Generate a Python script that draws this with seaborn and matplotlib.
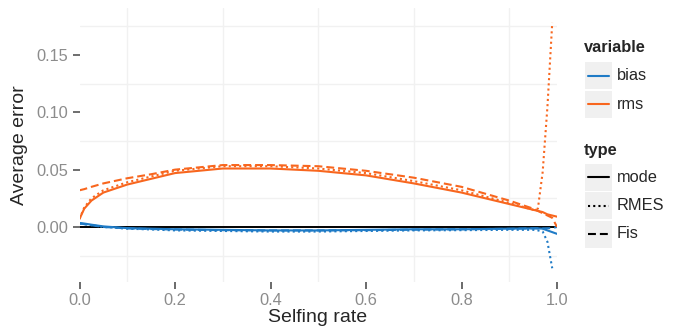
import pandas as pd
import matplotlib
matplotlib.use('Agg')
import matplotlib.pyplot as plt
from matplotlib.patches import Rectangle
from matplotlib.lines import Line2D
import seaborn as sns

selfing = [0.0, 0.01, 0.025, 0.05, 0.1, 0.15, 0.2, 0.3, 0.4, 0.5, 0.6, 0.7,
           0.8, 0.9, 0.95, 0.96, 0.97, 0.98, 0.99, 1.0]
selfing_rmes = selfing[:-1]

rms_mode = [0.007, 0.016, 0.023, 0.030, 0.037, 0.042, 0.047, 0.051, 0.051, 0.049,
            0.045, 0.038, 0.030, 0.020, 0.015, 0.014, 0.013, 0.011, 0.010, 0.009]
rms_fis = [0.032, 0.033, 0.035, 0.038, 0.0425, 0.046, 0.050, 0.054, 0.054, 0.053,
           0.049, 0.043, 0.035, 0.023, 0.016, 0.014, 0.012, 0.010, 0.008, 0.0]
rms_rmes = [0.007, 0.017, 0.025, 0.032, 0.039, 0.044, 0.049, 0.053, 0.053, 0.051,
            0.047, 0.040, 0.032, 0.021, 0.015, 0.016, 0.048, 0.105, 0.178]

bias_mode = [0.0035, 0.003, 0.002, 0.0005, -0.001, -0.0015, -0.002, -0.0025, -0.003, -0.003,
             -0.0025, -0.002, -0.002, -0.0015, -0.0012, -0.0012, -0.0015, -0.003, -0.0045, -0.006]
bias_fis = [0.003, 0.0025, 0.0015, 0.0, -0.0012, -0.0018, -0.0022, -0.0028, -0.003, -0.003,
            -0.0028, -0.0024, -0.002, -0.0016, -0.0012, -0.0012, -0.0012, -0.0011, -0.001, 0.0]
bias_rmes = [0.003, 0.0025, 0.0015, 0.0, -0.0015, -0.0022, -0.003, -0.0035, -0.004, -0.004,
             -0.0035, -0.003, -0.0028, -0.0025, -0.0025, -0.003, -0.004, -0.013, -0.036]

x_ticks = [0.0, 0.2, 0.4, 0.6, 0.8, 1.0]
x_ticklabels = ['0.0', '0.2', '0.4', '0.6', '0.8', '1.0']
y_ticks = [0.0, 0.05, 0.10, 0.15]
y_ticklabels = ['0.00', '0.05', '0.10', '0.15']

variables = ['bias', 'rms']
types = ['mode', 'RMES', 'Fis']
colors = {'bias': '#1F7BC6', 'rms': '#F8661E'}
dashes = {'mode': '', 'RMES': (1.0, 1.5), 'Fis': (3.8, 1.9)}
tick_color = '#6E6E6E'

series = [
    ('bias', 'mode', selfing, bias_mode),
    ('bias', 'RMES', selfing_rmes, bias_rmes),
    ('bias', 'Fis', selfing, bias_fis),
    ('rms', 'mode', selfing, rms_mode),
    ('rms', 'RMES', selfing_rmes, rms_rmes),
    ('rms', 'Fis', selfing, rms_fis),
]
frames = []
for var, typ, xs, ys in series:
    frames.append(pd.DataFrame({'selfing': xs, 'value': ys,
                                'variable': var, 'type': typ}))
data = pd.concat(frames, ignore_index=True)

sns.set_theme(style='white', rc={'xtick.bottom': True, 'ytick.left': True})
plt.rcParams['font.family'] = ['Liberation Sans', 'DejaVu Sans']

W, H = 678, 333
fig = plt.figure(figsize=(W / 100, H / 100), dpi=100)
ax = fig.add_axes([79.5 / W, 1 - 282 / H, 477.5 / W, 274 / H])

ax.axhline(0, color='black', lw=1.4, zorder=1)
sns.lineplot(data=data, x='selfing', y='value', hue='variable', style='type',
             hue_order=variables, style_order=types, palette=colors,
             dashes=dashes, lw=1.5, estimator=None, sort=False,
             legend=False, ax=ax, zorder=2)

ax.set_xlim(0, 1)
ax.set_ylim(-0.048, 0.191)
ax.set_xticks(x_ticks)
ax.set_xticklabels(x_ticklabels)
ax.set_xticks([0.1, 0.3, 0.5, 0.7, 0.9], minor=True)
ax.set_yticks(y_ticks)
ax.set_yticklabels(y_ticklabels)
ax.set_yticks([-0.025, 0.025, 0.075, 0.125, 0.175], minor=True)
ax.grid(False)
ax.grid(which='minor', color='#F1F1F1', lw=1.0)
for s in ax.spines.values():
    s.set_visible(False)
ax.tick_params(which='minor', length=0)
ax.tick_params(which='major', length=5, width=1.4, color=tick_color,
               direction='out', labelcolor='#8C8C8C', labelsize=11.8, pad=3)

# Засечки по оси x дорисовываем явно (в смешанных координатах оси)
ax.vlines(x_ticks, -0.026, 0.0, transform=ax.get_xaxis_transform(),
          color=tick_color, lw=1.4, clip_on=False, zorder=5)

ax.set_xlabel('')
ax.set_ylabel('')

fig.text(318 / W, 1 - 318 / H, 'Selfing rate', fontsize=14, ha='center', va='center')
fig.text(20 / W, 1 - 145 / H, 'Average error', fontsize=14, ha='center',
         va='center', rotation=90)


# Легенда в стиле ggplot
def legend_block(title, title_y, entries, top):
    fig.text(584 / W, 1 - title_y / H, title, fontsize=11.8, fontweight='bold',
             ha='left', va='center')
    for i, (label, color, dash) in enumerate(entries):
        y0 = top + i * 28.5
        fig.add_artist(Rectangle((585 / W, 1 - (y0 + 27) / H), 27 / W, 27 / H,
                                 transform=fig.transFigure, facecolor='#F0F0F0',
                                 edgecolor='none'))
        line = Line2D([588 / W, 609 / W], [1 - (y0 + 13.5) / H] * 2,
                      transform=fig.transFigure, color=color, lw=1.5)
        if dash:
            line.set_dashes(dash)
        fig.add_artist(line)
        fig.text(617 / W, 1 - (y0 + 13.5) / H, label, fontsize=11.8,
                 ha='left', va='center')


legend_block('variable', 48, [(v, colors[v], '') for v in variables], 62)
legend_block('type', 150, [(t, 'black', dashes[t]) for t in types], 163.5)

fig.savefig('out.png', dpi=100)
